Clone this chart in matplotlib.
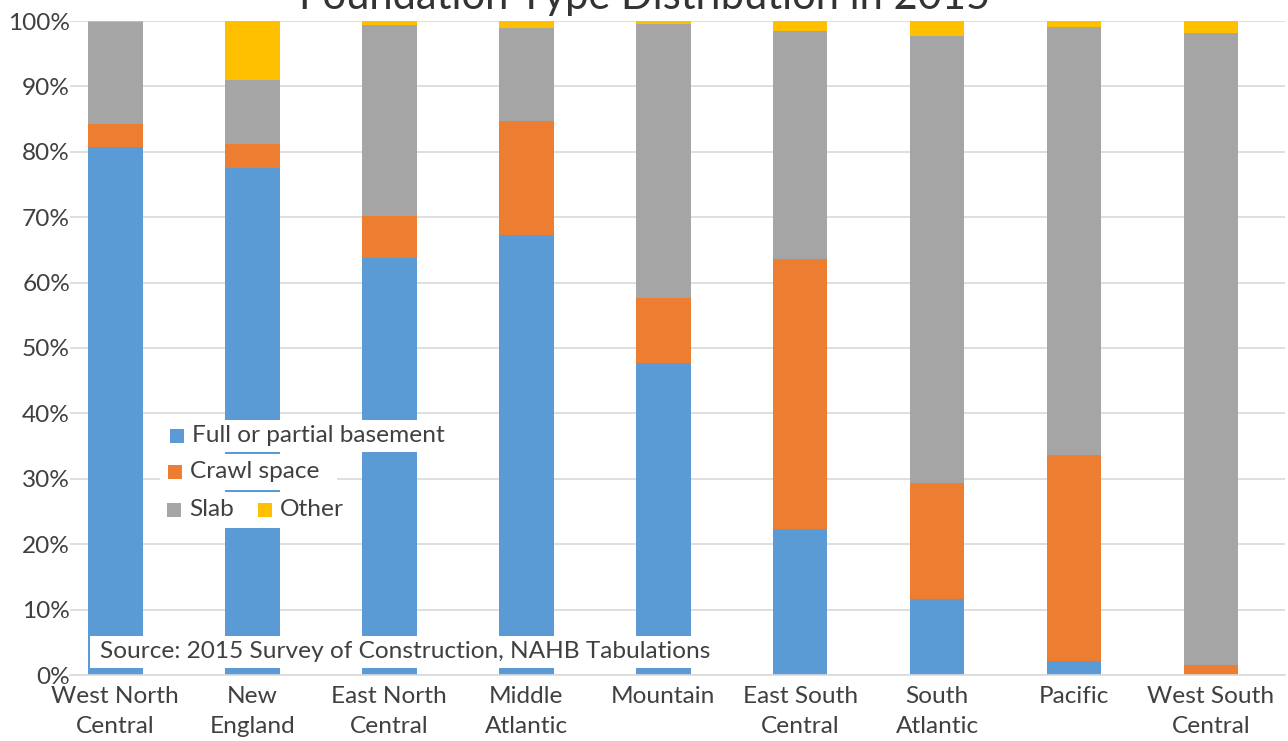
import numpy as np
import matplotlib.pyplot as plt
from matplotlib.patches import Rectangle

plt.rcParams['font.family'] = ['Lato', 'DejaVu Sans']

regions = ['West North\nCentral', 'New\nEngland', 'East North\nCentral', 'Middle\nAtlantic',
           'Mountain', 'East South\nCentral', 'South\nAtlantic', 'Pacific', 'West South\nCentral']
basement = [80.7, 77.5, 63.8, 67.3, 47.7, 22.3, 11.6, 2.1, 0.0]
crawl = [3.5, 3.7, 6.4, 17.4, 9.9, 41.3, 17.8, 31.5, 1.5]
slab = [15.6, 9.8, 29.2, 14.2, 41.9, 34.9, 68.3, 65.5, 96.7]
other = [0.2, 9.0, 0.6, 1.1, 0.5, 1.5, 2.3, 0.9, 1.8]

series = ['Full or partial basement', 'Crawl space', 'Slab', 'Other']
colors = ['#5B9BD5', '#ED7D31', '#A5A5A5', '#FFC000']
txt = '#404040'
fs = 17.6

W, H = 1288, 741
fig = plt.figure(figsize=(W / 100, H / 100), dpi=100)

def px(x, y):
    # pixel position (from top-left) -> figure fraction
    return x / W, 1 - y / H

ax = fig.add_axes([70 / W, 1 - 675 / H, (1285 - 70) / W, (675 - 21) / H])

x = np.arange(len(regions))
data = np.array([basement, crawl, slab, other]) / 100
bottom = np.zeros(len(regions))
for vals, c in zip(data, colors):
    ax.bar(x, vals, 0.4, bottom=bottom, color=c, zorder=2)
    bottom += vals

ax.set_xlim(-0.33, 8.54)
ax.set_ylim(0, 1)
ax.set_yticks(np.arange(0, 1.01, 0.1))
ax.set_yticklabels([f'{v}%' for v in range(0, 101, 10)])
ax.set_xticks(x)
ax.set_xticklabels(regions, linespacing=1.5)
ax.tick_params(length=0, labelsize=fs, colors=txt)
ax.tick_params(axis='x', pad=8)
ax.tick_params(axis='y', pad=0)
ax.grid(axis='y', color='#d9d9d9', lw=1.2, zorder=0)
for s in ['top', 'right', 'left']:
    ax.spines[s].set_visible(False)
ax.spines['bottom'].set_color('#d9d9d9')
ax.spines['bottom'].set_linewidth(1.2)

# title sits partly above the top edge
fig.text(645 / W, 1 - 9 / H, 'Foundation Type Distribution in 2015', ha='center',
         va='baseline', fontsize=30, color='#333333')

# legend drawn row by row, each row with its own white background
rows = [
    (160, 420, 462, 452, [(170, 'Full or partial basement', 0)]),
    (160, 454, 337, 490, [(168, 'Crawl space', 1)]),
    (160, 492, 350, 528, [(167, 'Slab', 2), (258, 'Other', 3)]),
]
for x0, y0, x1, y1, items in rows:
    fx0, fy1 = px(x0, y1)
    fx1, fy0 = px(x1, y0)
    fig.patches.append(Rectangle((fx0, fy1), fx1 - fx0, fy0 - fy1, transform=fig.transFigure,
                                 facecolor='white', edgecolor='none', zorder=3))
    yc = (y0 + y1) / 2
    for sx, label, k in items:
        bx, by = px(sx, yc + 7)
        fig.patches.append(Rectangle((bx, by), 14 / W, 14 / H, transform=fig.transFigure,
                                     facecolor=colors[k], edgecolor='none', zorder=4))
        tx, ty = px(sx + 22, yc)
        fig.text(tx, ty, label, ha='left', va='center', fontsize=fs, color=txt, zorder=5)

# source note box
sx0, sy1 = px(90, 668)
sx1, sy0 = px(718, 636)
fig.patches.append(Rectangle((sx0, sy1), sx1 - sx0, sy0 - sy1, transform=fig.transFigure,
                             facecolor='white', edgecolor='none', zorder=3))
tx, ty = px(100, 652)
fig.text(tx, ty, 'Source: 2015 Survey of Construction, NAHB Tabulations', ha='left',
         va='center', fontsize=fs, color=txt, zorder=5)

fig.savefig('out.png', dpi=100)
